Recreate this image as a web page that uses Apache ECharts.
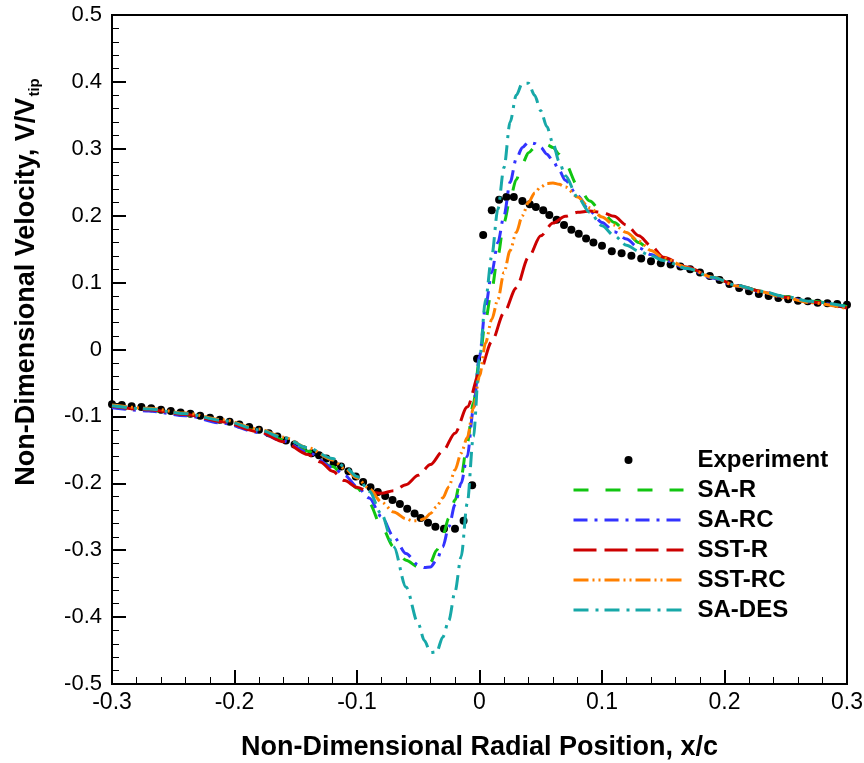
<!DOCTYPE html>
<html><head><meta charset="utf-8">
<script src="https://cdn.jsdelivr.net/npm/echarts@6/dist/echarts.min.js"></script>
<style>html,body{margin:0;padding:0;background:#fff}#c{width:864px;height:763px}</style>
</head><body><div id="c"></div>
<script>
const xTicks = [-0.3, -0.2, -0.1, 0, 0.1, 0.2, 0.3];
const yTicks = [-0.5, -0.4, -0.3, -0.2, -0.1, 0, 0.1, 0.2, 0.3, 0.4, 0.5];
const seriesNames = ['Experiment', 'SA-R', 'SA-RC', 'SST-R', 'SST-RC', 'SA-DES'];

const experiment = [[-0.300,-0.082],[-0.292,-0.083],[-0.284,-0.085],[-0.276,-0.086],[-0.268,-0.088],[-0.260,-0.090],[-0.252,-0.092],[-0.244,-0.094],[-0.236,-0.096],[-0.228,-0.099],[-0.220,-0.102],[-0.212,-0.105],[-0.204,-0.108],[-0.196,-0.112],[-0.188,-0.116],[-0.180,-0.120],[-0.172,-0.125],[-0.165,-0.130],[-0.158,-0.136],[-0.151,-0.142],[-0.144,-0.149],[-0.137,-0.155],[-0.131,-0.158],[-0.125,-0.163],[-0.119,-0.170],[-0.113,-0.175],[-0.107,-0.182],[-0.101,-0.190],[-0.095,-0.198],[-0.089,-0.206],[-0.083,-0.213],[-0.077,-0.219],[-0.071,-0.225],[-0.065,-0.231],[-0.059,-0.238],[-0.053,-0.245],[-0.048,-0.252],[-0.042,-0.259],[-0.036,-0.265],[-0.029,-0.268],[-0.020,-0.268],[-0.013,-0.256],[-0.006,-0.203],[-0.002,-0.014],[0.003,0.171],[0.010,0.208],[0.016,0.224],[0.022,0.228],[0.028,0.228],[0.035,0.222],[0.041,0.217],[0.046,0.213],[0.052,0.208],[0.057,0.201],[0.063,0.194],[0.069,0.186],[0.075,0.179],[0.081,0.173],[0.087,0.166],[0.093,0.160],[0.100,0.155],[0.108,0.147],[0.116,0.144],[0.124,0.140],[0.132,0.136],[0.140,0.132],[0.148,0.129],[0.156,0.127],[0.164,0.124],[0.172,0.120],[0.180,0.115],[0.188,0.110],[0.196,0.104],[0.204,0.098],[0.212,0.092],[0.220,0.087],[0.228,0.083],[0.236,0.080],[0.244,0.077],[0.252,0.075],[0.260,0.073],[0.268,0.072],[0.276,0.070],[0.284,0.069],[0.292,0.068],[0.300,0.067]];

const saR = [[-0.3,-0.086],[-0.27,-0.091],[-0.24,-0.098],[-0.21,-0.108],[-0.18,-0.122],[-0.16,-0.135],[-0.14,-0.152],[-0.12,-0.175],[-0.11,-0.19],[-0.1,-0.207],[-0.09,-0.23],[-0.08,-0.265],[-0.07,-0.295],[-0.06,-0.315],[-0.05,-0.325],[-0.045,-0.325],[-0.04,-0.318],[-0.035,-0.3],[-0.03,-0.278],[-0.025,-0.252],[-0.02,-0.225],[-0.015,-0.19],[-0.01,-0.14],[-0.005,-0.08],[0,-0.015],[0.005,0.045],[0.01,0.09],[0.015,0.14],[0.02,0.19],[0.025,0.225],[0.03,0.254],[0.035,0.278],[0.04,0.294],[0.045,0.302],[0.05,0.305],[0.055,0.306],[0.06,0.302],[0.065,0.292],[0.07,0.278],[0.08,0.245],[0.09,0.222],[0.1,0.205],[0.11,0.19],[0.12,0.175],[0.13,0.16],[0.14,0.147],[0.15,0.136],[0.17,0.122],[0.19,0.108],[0.21,0.096],[0.23,0.087],[0.25,0.079],[0.27,0.072],[0.3,0.064]];

const saRC = [[-0.3,-0.087],[-0.27,-0.092],[-0.24,-0.099],[-0.21,-0.11],[-0.18,-0.124],[-0.16,-0.137],[-0.14,-0.154],[-0.12,-0.176],[-0.11,-0.188],[-0.1,-0.205],[-0.09,-0.222],[-0.08,-0.25],[-0.07,-0.28],[-0.06,-0.305],[-0.05,-0.322],[-0.045,-0.326],[-0.04,-0.325],[-0.035,-0.315],[-0.03,-0.295],[-0.025,-0.265],[-0.02,-0.232],[-0.015,-0.2],[-0.01,-0.16],[-0.005,-0.09],[0,-0.01],[0.005,0.065],[0.01,0.115],[0.015,0.16],[0.02,0.2],[0.025,0.25],[0.03,0.285],[0.035,0.302],[0.04,0.31],[0.045,0.308],[0.05,0.302],[0.055,0.292],[0.06,0.282],[0.065,0.268],[0.07,0.253],[0.08,0.23],[0.09,0.207],[0.1,0.19],[0.11,0.176],[0.12,0.165],[0.13,0.152],[0.14,0.142],[0.15,0.134],[0.17,0.121],[0.19,0.107],[0.21,0.095],[0.23,0.086],[0.25,0.078],[0.27,0.071],[0.3,0.063]];

const sstR = [[-0.3,-0.085],[-0.27,-0.09],[-0.24,-0.097],[-0.21,-0.108],[-0.18,-0.123],[-0.16,-0.138],[-0.14,-0.157],[-0.13,-0.168],[-0.12,-0.182],[-0.11,-0.196],[-0.1,-0.206],[-0.09,-0.213],[-0.08,-0.215],[-0.07,-0.211],[-0.06,-0.202],[-0.05,-0.188],[-0.04,-0.172],[-0.03,-0.152],[-0.02,-0.125],[-0.01,-0.086],[0,-0.035],[0.01,0.012],[0.02,0.055],[0.03,0.092],[0.04,0.138],[0.05,0.17],[0.06,0.189],[0.07,0.199],[0.08,0.205],[0.09,0.207],[0.1,0.205],[0.11,0.199],[0.12,0.186],[0.13,0.17],[0.14,0.155],[0.15,0.138],[0.17,0.123],[0.19,0.108],[0.21,0.096],[0.23,0.087],[0.25,0.078],[0.27,0.071],[0.3,0.062]];

const sstRC = [[-0.3,-0.083],[-0.27,-0.088],[-0.24,-0.095],[-0.21,-0.105],[-0.18,-0.119],[-0.16,-0.131],[-0.14,-0.147],[-0.12,-0.165],[-0.11,-0.178],[-0.1,-0.192],[-0.09,-0.208],[-0.08,-0.228],[-0.07,-0.243],[-0.06,-0.253],[-0.055,-0.256],[-0.05,-0.256],[-0.045,-0.253],[-0.04,-0.245],[-0.035,-0.235],[-0.03,-0.222],[-0.025,-0.205],[-0.02,-0.18],[-0.015,-0.155],[-0.01,-0.132],[-0.005,-0.088],[0,-0.04],[0.005,0.01],[0.01,0.045],[0.015,0.075],[0.02,0.115],[0.025,0.148],[0.03,0.175],[0.035,0.2],[0.04,0.22],[0.045,0.234],[0.05,0.243],[0.055,0.248],[0.06,0.249],[0.065,0.247],[0.07,0.243],[0.08,0.228],[0.09,0.212],[0.1,0.198],[0.11,0.186],[0.12,0.175],[0.13,0.162],[0.14,0.148],[0.15,0.137],[0.17,0.122],[0.19,0.108],[0.21,0.095],[0.23,0.086],[0.25,0.077],[0.27,0.07],[0.3,0.061]];

const saDES = [[-0.3,-0.084],[-0.27,-0.089],[-0.24,-0.096],[-0.21,-0.106],[-0.18,-0.12],[-0.16,-0.132],[-0.14,-0.147],[-0.12,-0.163],[-0.11,-0.175],[-0.1,-0.19],[-0.09,-0.212],[-0.08,-0.246],[-0.07,-0.295],[-0.06,-0.355],[-0.05,-0.41],[-0.045,-0.435],[-0.04,-0.453],[-0.035,-0.452],[-0.03,-0.43],[-0.025,-0.405],[-0.02,-0.362],[-0.015,-0.31],[-0.01,-0.23],[-0.005,-0.13],[0,-0.015],[0.005,0.075],[0.01,0.14],[0.015,0.21],[0.02,0.272],[0.025,0.34],[0.03,0.38],[0.035,0.398],[0.04,0.398],[0.045,0.38],[0.05,0.357],[0.055,0.333],[0.06,0.308],[0.065,0.281],[0.07,0.26],[0.08,0.228],[0.09,0.205],[0.1,0.185],[0.11,0.17],[0.12,0.156],[0.13,0.147],[0.14,0.14],[0.15,0.133],[0.17,0.121],[0.19,0.108],[0.21,0.096],[0.23,0.087],[0.25,0.079],[0.27,0.072],[0.3,0.064]];

const lineData = [saR, saRC, sstR, sstRC, saDES];
const lineColors = ['#11c511', '#3333ff', '#cc0000', '#ff8000', '#17a8a8'];
const lineDashes = [[15,17], [14,7,3,7], [23,8], [15,4,2,4,2,4], [15,7,3,6]];

const chart = echarts.init(document.getElementById('c'), null, {renderer: 'canvas'});
const FONT = 'Liberation Sans, Arial, Helvetica, sans-serif';

const series = [{
  name: seriesNames[0], type: 'scatter', data: experiment, symbol: 'circle', symbolSize: 8,
  itemStyle: {color: '#000', opacity: 1}, z: 2
}];
lineData.forEach((d, i) => {
  series.push({
    name: seriesNames[i + 1], type: 'line', data: d, showSymbol: false, symbol: 'none',
    smooth: 0.3, smoothMonotone: 'x',
    lineStyle: {color: lineColors[i], width: 3, type: lineDashes[i]},
    itemStyle: {color: lineColors[i]}, z: 3
  });
});

const legendData = seriesNames.map((n, i) => i === 0
  ? {name: n, icon: 'circle', itemStyle: {color: '#000', opacity: 1}}
  : {name: n, itemStyle: {opacity: 0}, lineStyle: {color: lineColors[i - 1], width: 3, type: lineDashes[i - 1], opacity: 1}});

chart.setOption({
  animation: false,
  backgroundColor: '#fff',
  grid: {left: 112, right: 17, top: 15, bottom: 79, show: true, borderColor: '#000', borderWidth: 2,
    containLabel: false, outerBoundsMode: 'none'},
  xAxis: {
    type: 'value', min: xTicks[0], max: xTicks[xTicks.length - 1], interval: 0.1,
    axisLine: {show: true, onZero: false, lineStyle: {color: '#000', width: 2}},
    axisTick: {show: true, inside: true, length: 14, lineStyle: {color: '#000', width: 2}},
    minorTick: {show: true, splitNumber: 5, length: 7, lineStyle: {color: '#000', width: 1}},
    splitLine: {show: false},
    axisLabel: {color: '#000', fontSize: 23, fontFamily: FONT, margin: 7,
      formatter: v => String(Math.round(v * 10) / 10)},
    name: 'Non-Dimensional Radial Position, x/c', nameLocation: 'middle', nameGap: 50,
    nameTextStyle: {color: '#000', fontSize: 27, fontWeight: 'bold', fontFamily: FONT}
  },
  yAxis: {
    type: 'value', min: yTicks[0], max: yTicks[yTicks.length - 1], interval: 0.1,
    axisLine: {show: true, onZero: false, lineStyle: {color: '#000', width: 2}},
    axisTick: {show: true, inside: true, length: 14, lineStyle: {color: '#000', width: 2}},
    minorTick: {show: true, splitNumber: 5, length: 7, lineStyle: {color: '#000', width: 1}},
    splitLine: {show: false},
    axisLabel: {color: '#000', fontSize: 22, fontFamily: FONT, margin: 10,
      formatter: v => String(Math.round(v * 10) / 10)}
  },
  legend: {
    orient: 'vertical', left: 567, top: 443, itemWidth: 110, itemHeight: 8, itemGap: 6,
    data: legendData,
    textStyle: {color: '#000', fontSize: 24, fontWeight: 'bold', fontFamily: FONT, padding: [0, 0, 0, 9]}
  },
  graphic: [{
    type: 'text', x: 27, y: 282, rotation: Math.PI / 2,
    style: {
      text: '{a|Non-Dimensional Velocity, V/V}{s|tip}',
      align: 'center', verticalAlign: 'middle',
      rich: {
        a: {fontSize: 27, fontWeight: 'bold', fontFamily: FONT, fill: '#000', lineHeight: 30},
        s: {fontSize: 15, fontWeight: 'bold', fontFamily: FONT, fill: '#000', lineHeight: 30, verticalAlign: 'bottom', padding: [0,0,0,1]}
      }
    }
  }],
  series: series
});
</script></body></html>
